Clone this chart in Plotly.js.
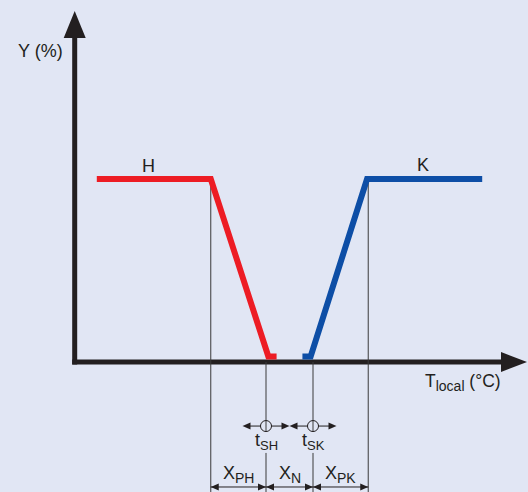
<!DOCTYPE html>
<html>
<head>
<meta charset="utf-8">
<script src="https://cdn.plot.ly/plotly-3.0.1.min.js"></script>
<style>html,body{margin:0;padding:0;background:#e1e6f4;}#chart{width:528px;height:492px;}</style>
</head>
<body>
<div id="chart"></div>
<script>
// ---- data (schematic values) ----
const tempH = [12.8, 17.65, 20.1, 20.45];   // heating curve H, °C
const yH    = [100, 100, 3, 3];              // %
const tempK = [21.55, 21.9, 24.3, 29.2];    // cooling curve K, °C
const yK    = [3, 3, 100, 100];              // %
const tSH = 20, tSK = 22;                    // set points
const XPH = 2.35, XPK = 2.35;                // proportional bands
const tickLabels = ['t<sub>SH</sub>', 't<sub>SK</sub>'];
const dimLabels  = ['X<sub>PH</sub>', 'X<sub>N</sub>', 'X<sub>PK</sub>'];
const curveLabels = ['H', 'K'];
const axisLabels = ['Y (%)', 'T<sub>local</sub> (°C)'];

// ---- layout helpers ----
const W = 528, H = 492;
const PXT = 23.5, PXY = 1.83;               // pixels per unit
const xRange = [tSH - 266 / PXT, tSH + 262 / PXT];
const yRange = [-130 / PXY, 362 / PXY];
const dx = p => p / PXT, dy = p => p / PXY;
const xOrigin = tSH - dx(191.3);
const yBottom = yRange[0];
const circleY = -35, dimY = -68.3;
const labelTop = -37.9, labelBottom = -49.7; // gap in set-point lines for labels
const DARK = '#231f20', THIN = '#3a3a3a';
const FONT = 'Liberation Sans, Arial, sans-serif';
const subSize = (s, px) => s.replace('<sub>', `<sub><span style="font-size:${px}px">`).replace('</sub>', '</span></sub>');

function head(xt, yt, dir, L, Hh, col) { // dir -1 = pointing left
  const xb = xt - dir * L;
  return {type:'path', layer:'above', xref:'x', yref:'y',
    path:`M ${xt},${yt} L ${xb},${yt + Hh} L ${xb},${yt - Hh} Z`,
    fillcolor: col, line:{width:0}};
}

const shapes = [];
// axes
shapes.push({type:'line', layer:'below', x0:xOrigin, x1:xOrigin, y0:-dy(2.5), y1:dy(362-38), line:{color:DARK,width:5}});
shapes.push({type:'line', layer:'below', x0:xOrigin-dx(2.5), x1:xRange[1]-dx(26), y0:0, y1:0, line:{color:DARK,width:5}});
shapes.push({type:'path', layer:'below', fillcolor:DARK, line:{width:0},
  path:`M ${xOrigin},${dy(362-11)} L ${xOrigin+dx(11)},${dy(362-38)} L ${xOrigin-dx(11)},${dy(362-38)} Z`});
shapes.push(Object.assign(head(xRange[1]-dx(1), 0, 1, dx(26), dy(10), DARK), {layer:'below'}));

// small arrows around set points
const aL = dx(8), aH = dy(3.5), rC = dx(5);
[tSH, tSK].forEach(t => {
  shapes.push({type:'line', x0:t-1+aL*0.5, x1:t-rC, y0:circleY, y1:circleY, line:{color:DARK,width:1}});
  shapes.push({type:'line', x0:t+rC, x1:t+1-aL*0.5, y0:circleY, y1:circleY, line:{color:DARK,width:1}});
  shapes.push(head(t-1, circleY, -1, aL, aH, DARK));
  shapes.push(head(t+1, circleY, 1, aL, aH, DARK));
});
// dimension line
const dimPts = [tSH - XPH, tSH, tSK, tSK + XPK];
shapes.push({type:'line', x0:dimPts[0], x1:dimPts[3], y0:dimY, y1:dimY, line:{color:DARK,width:1}});
for (let i = 0; i < 3; i++) {
  shapes.push(head(dimPts[i], dimY, -1, aL, aH, DARK));
  shapes.push(head(dimPts[i+1], dimY, 1, aL, aH, DARK));
}

// thin vertical lines
const vx = [], vy = [];
[[tSH - XPH, 100], [tSK + XPK, 100]].forEach(([x, top]) => {
  vx.push(x, x, null); vy.push(top, yBottom, null);
});
[tSH, tSK].forEach(x => {
  vx.push(x, x, null, x, x, null); vy.push(0, labelTop, null, labelBottom, yBottom, null);
});

const traces = [
  {x:vx, y:vy, mode:'lines', line:{color:THIN, width:1}, hoverinfo:'skip'},
  {x:tempH, y:yH, mode:'lines', line:{color:'#ed1c24', width:6}},
  {x:tempK, y:yK, mode:'lines', line:{color:'#0d4ea6', width:6}},
  {x:[tSH, tSK], y:[circleY, circleY], mode:'markers',
   marker:{symbol:'circle-open', size:11, color:DARK, line:{width:1, color:DARK}}}
];

const f = {family:FONT, size:18, color:DARK};
const annotations = [
  {x:tSH - dx(226), y:dy(362-51), text:axisLabels[0], showarrow:false, font:f, xanchor:'center', yanchor:'middle'},
  {x:tSH + dx(157), y:dy(362-382), text:subSize(axisLabels[1], 14), showarrow:false, font:Object.assign({}, f, {size:17.5}), xanchor:'left', yanchor:'middle'},
  {x:15.02, y:107.1, text:curveLabels[0], showarrow:false, font:f},
  {x:26.68, y:107.6, text:curveLabels[1], showarrow:false, font:f},
];
tickLabels.forEach((s, i) => {
  annotations.push({x:[tSH, tSK][i], y:-43.2, text:subSize(s, 13), showarrow:false,
    font:Object.assign({}, f, {size:18})});
});
for (let i = 0; i < 3; i++) {
  annotations.push({x:(dimPts[i] + dimPts[i+1]) / 2, y:-61.2,
    text:subSize(dimLabels[i], 14), showarrow:false, font:f});
}

Plotly.newPlot('chart', traces, {
  width:W, height:H, margin:{l:0, r:0, t:0, b:0},
  paper_bgcolor:'#e1e6f4', plot_bgcolor:'#e1e6f4', showlegend:false,
  xaxis:{range:xRange, visible:false, fixedrange:true},
  yaxis:{range:yRange, visible:false, fixedrange:true},
  shapes:shapes, annotations:annotations, hovermode:false
}, {staticPlot:true});
</script>
</body>
</html>
